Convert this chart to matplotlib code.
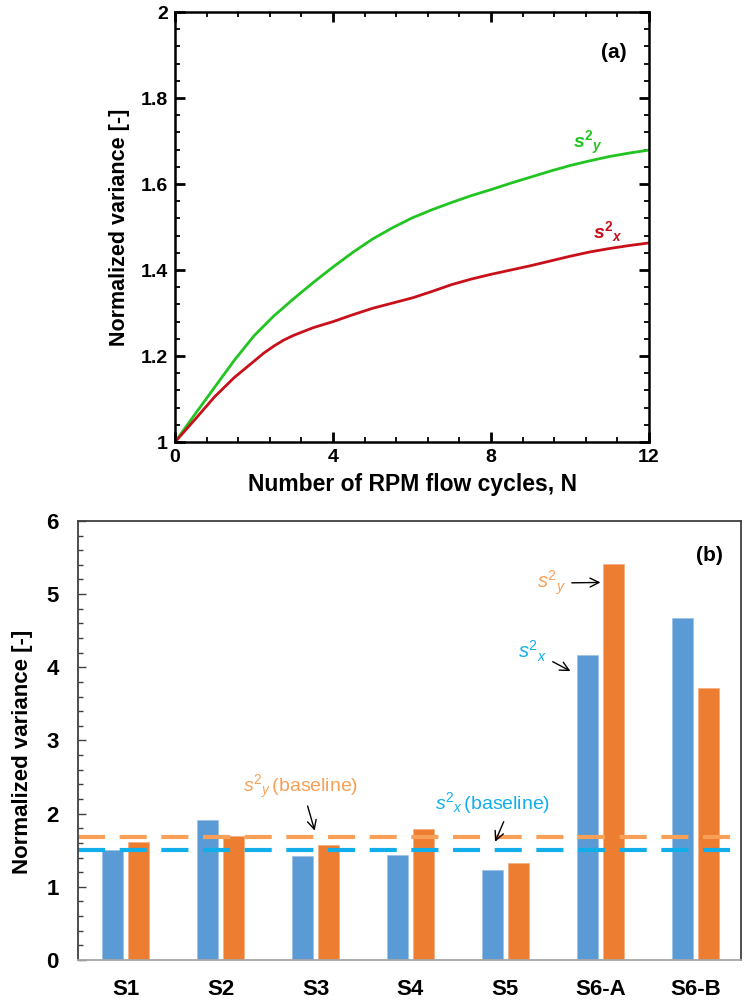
import matplotlib.pyplot as plt
import numpy as np

plt.rcParams['font.family'] = ['Liberation Sans', 'DejaVu Sans']
plt.rcParams['mathtext.fontset'] = 'custom'
plt.rcParams['mathtext.rm'] = 'Liberation Sans'
plt.rcParams['mathtext.it'] = 'Liberation Sans:italic'
plt.rcParams['mathtext.bf'] = 'Liberation Sans:bold'
plt.rcParams['mathtext.bfit'] = 'Liberation Sans:bold:italic'

# ---- (a) variance vs number of flow cycles
n_cycles_y = [0, 0.5, 1, 1.5, 2, 2.5, 3, 3.5, 4, 4.5, 5, 5.5, 6, 6.5, 7, 7.5,
              8, 8.5, 9, 9.5, 10, 10.5, 11, 11.5, 12]
var_y = [1.0, 1.064, 1.127, 1.19, 1.247, 1.293, 1.333, 1.371, 1.407, 1.441,
         1.472, 1.498, 1.521, 1.54, 1.557, 1.573, 1.587, 1.602, 1.616, 1.63,
         1.643, 1.654, 1.664, 1.672, 1.679]
n_cycles_x = [0, 0.5, 1, 1.5, 2, 2.25, 2.5, 2.75, 3, 3.5, 4, 4.5, 5, 5.5, 6,
              6.5, 7, 7.5, 8, 8.5, 9, 9.5, 10, 10.5, 11, 11.5, 12]
var_x = [1.0, 1.052, 1.105, 1.15, 1.188, 1.207, 1.223, 1.237, 1.248, 1.266,
         1.28, 1.296, 1.311, 1.323, 1.335, 1.35, 1.366, 1.379, 1.39, 1.40,
         1.41, 1.421, 1.432, 1.442, 1.45, 1.457, 1.463]

# ---- (b) variance per case
cases = ['S1', 'S2', 'S3', 'S4', 'S5', 'S6-A', 'S6-B']
case_var_x = [1.50, 1.915, 1.42, 1.435, 1.23, 4.17, 4.68]
case_var_y = [1.617, 1.70, 1.567, 1.79, 1.32, 5.405, 3.72]
baseline_x = 1.50
baseline_y = 1.68

green = '#22C422'
red = '#C8101A'
bar_blue = '#5B9BD5'
bar_orange = '#ED7D31'
dash_orange = '#F8A057'
dash_blue = '#12AEEA'

fig = plt.figure(figsize=(7.46, 10.01), dpi=100)

# ================= panel (a)
ax1 = fig.add_axes([0.2346, 0.5584, 0.6354, 0.4296])
ax1.plot(n_cycles_y, var_y, color=green, lw=2.0)
ax1.plot(n_cycles_x, var_x, color=red, lw=2.0)
ax1.set_xlim(0, 12)
ax1.set_ylim(1, 2)
ax1.set_xticks([0, 4, 8, 12])
ax1.set_xticks(np.arange(0, 12.01, 0.8), minor=True)
ax1.set_yticks([1, 1.2, 1.4, 1.6, 1.8, 2])
ax1.set_yticklabels(['1', '1.2', '1.4', '1.6', '1.8', '2'])
ax1.set_yticks(np.arange(1, 2.001, 0.04), minor=True)
ax1.tick_params(which='both', direction='in', top=True, right=True,
                width=1.3, labelsize=14, pad=5)
ax1.tick_params(which='major', length=7, width=2)
ax1.tick_params(which='minor', length=3.5)
for lab in ax1.get_xticklabels() + ax1.get_yticklabels():
  lab.set_fontweight('bold')
for sp in ax1.spines.values():
  sp.set_linewidth(1.8)
ax1.set_xlabel('Number of RPM flow cycles, N', fontsize=16.5, fontweight='bold', labelpad=5)
ax1.set_ylabel('Normalized variance [-]', fontsize=15.5, fontweight='bold', labelpad=8)

ax1.text(10.45, 1.695, r'$\mathbfit{s}^{\mathbf{2}}{}_{\mathbfit{y}}$', color=green,
         fontsize=14, ha='center', va='center')
ax1.text(10.95, 1.49, r'$\mathbfit{s}^{\mathbf{2}}{}_{\mathbfit{x}}$', color=red,
         fontsize=14, ha='center', va='center')
ax1.text(11.1, 1.905, '(a)', fontsize=15, fontweight='bold', ha='center', va='center')

# ================= panel (b)
ax2 = fig.add_axes([0.1046, 0.041, 0.8887, 0.4386])
pos = np.arange(len(cases))
bw = 0.22
ax2.bar(pos - 0.14, case_var_x, width=bw, color=bar_blue, edgecolor='#9DC3E6', linewidth=0.6)
ax2.bar(pos + 0.14, case_var_y, width=bw, color=bar_orange, edgecolor='#F4B183', linewidth=0.6)
ax2.axhline(baseline_y, color=dash_orange, lw=3, dashes=(6.5, 3.5))
ax2.axhline(baseline_x, color=dash_blue, lw=3, dashes=(6.5, 3.5))
ax2.set_xlim(-0.5, 6.48)
ax2.set_ylim(0, 6)
ax2.set_xticks(pos)
ax2.set_xticklabels(cases)
ax2.set_yticks(np.arange(0, 7, 1))
ax2.set_yticks(np.arange(0, 6.01, 0.2), minor=True)
ax2.tick_params(axis='x', length=0, pad=14)
ax2.tick_params(axis='y', which='both', direction='in', color='#404040', width=1.0)
ax2.tick_params(axis='y', which='major', length=6, pad=14)
ax2.tick_params(axis='y', which='minor', length=3.5)
for lab in ax2.get_xticklabels() + ax2.get_yticklabels():
  lab.set_fontweight('bold')
  lab.set_fontsize(16)
for name in ['left', 'top', 'right']:
  ax2.spines[name].set_color('#404040')
  ax2.spines[name].set_linewidth(1.3)
ax2.spines['bottom'].set_color('#A6A6A6')
ax2.spines['bottom'].set_linewidth(1.3)
ax2.set_ylabel('Normalized variance [-]', fontsize=16, fontweight='bold')
ax2.yaxis.set_label_coords(-0.068, 0.475)

arrow = dict(arrowstyle='->', color='black', lw=1.0, mutation_scale=16)
ax2.annotate(r'$s^2{}_y$', xy=(5.03, 5.16), xytext=(4.64, 5.15), color=dash_orange,
             fontsize=14.5, ha='right', va='center', arrowprops=arrow)
ax2.annotate(r'$s^2{}_x$', xy=(4.71, 3.93), xytext=(4.29, 4.22), color=dash_blue,
             fontsize=14.5, ha='center', va='center', arrowprops=arrow)
ax2.annotate(r'$s^2{}_y\,$(baseline)', xy=(2.0, 1.73), xytext=(1.84, 2.37), color=dash_orange,
             fontsize=14, ha='center', va='center',
             arrowprops=dict(arrow, relpos=(0.55, 0.0)))
ax2.annotate(r'$s^2{}_x\,$(baseline)', xy=(3.88, 1.58), xytext=(3.86, 2.14), color=dash_blue,
             fontsize=14, ha='center', va='center',
             arrowprops=dict(arrow, relpos=(0.62, 0.0)))
ax2.text(6.15, 5.53, '(b)', fontsize=15, fontweight='bold', ha='center', va='center')

plt.savefig('out.png', dpi=100)
